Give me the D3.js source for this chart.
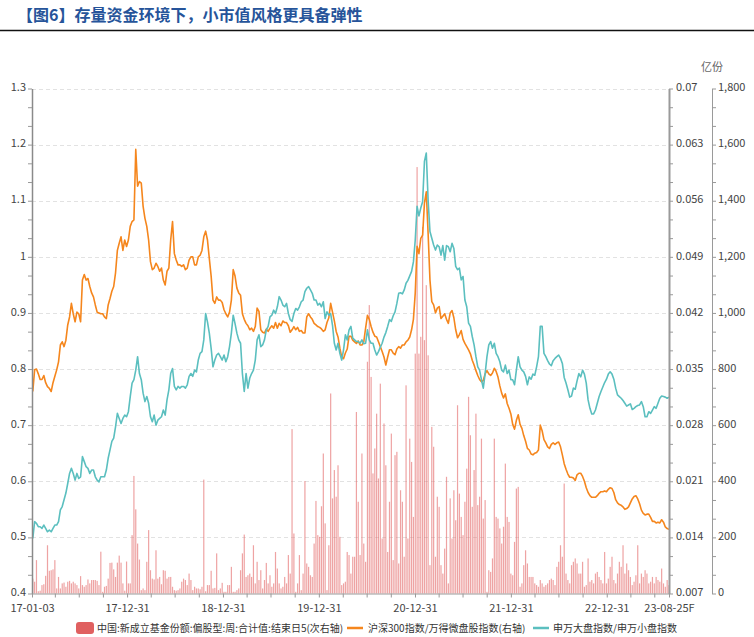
<!DOCTYPE html>
<html><head><meta charset="utf-8">
<script src="https://cdn.jsdelivr.net/npm/d3@7"></script>
<style>
body{margin:0;background:#fff;}
svg{display:block;font-family:"Noto Sans CJK SC","Noto Sans",sans-serif;}
</style></head><body>
<svg id="chart" width="754" height="637"></svg>
<script>
// ---------- texts & categories ----------
const titleText = "【图6】存量资金环境下，小市值风格更具备弹性";
const unitText = "亿份";
const seriesNames = [
  "中国:新成立基金份额:偏股型:周:合计值:结束日5(次右轴)",
  "沪深300指数/万得微盘股指数(右轴)",
  "申万大盘指数/申万小盘指数"
];
const firstWeek = "2017-01-06";           // weekly observations (Fridays)
const axisStart = "2017-01-03", axisEnd = "2023-08-25";
const xLabelDates = ["2017-01-03","2017-12-31","2018-12-31","2019-12-31","2020-12-31","2021-12-31","2022-12-31","2023-08-25"];
const xLabels = ["17-01-03","17-12-31","18-12-31","19-12-31","20-12-31","21-12-31","22-12-31","23-08-25F"];
const leftTicks = [0.4,0.5,0.6,0.7,0.8,0.9,1.0,1.1,1.2,1.3];
const rightTicks = [0.007,0.014,0.021,0.028,0.035,0.042,0.049,0.056,0.063,0.07];
const shareTicks = [0,200,400,600,800,1000,1200,1400,1600,1800];

// ---------- series (weekly) ----------
const fundShares = [
53,42,119,8,10,30,33,63,172,81,
83,86,119,18,59,18,36,39,24,42,
45,36,42,36,30,18,62,30,24,30,
50,36,48,48,48,45,30,149,6,24,
27,53,109,110,86,59,110,135,110,36,
10,114,36,36,208,419,300,178,121,12,
18,12,113,226,83,53,50,154,53,59,
33,83,81,53,59,59,24,12,10,12,
18,42,53,48,30,71,48,
12,24,18,18,15,24,406,8,30,30,
81,18,20,143,12,18,38,6,6,30,
30,95,6,6,12,18,83,143,210,59,
65,71,59,172,36,113,48,83,18,48,
109,36,65,24,36,148,89,36,18,24,
59,36,137,71,586,214,6,36,137,12,
71,401,107,95,65,59,178,330,208,202,
311,499,250,12,172,713,339,440,345,457,
202,30,36,42,
148,137,71,131,131,647,327,137,499,178,
113,826,1028,772,428,517,641,410,748,196,
606,457,148,327,570,119,493,505,107,368,
327,131,742,196,552,469,273,855,1520,855,
915,1307,903,1099,849,101,594,523,131,345,
309,101,71,160,416,36,339,196,368,261,
671,356,273,208,327,445,701,564,309,440,
641,315,345,552,267,333,6,83,77,125,
552,273,267,232,178,238,463,
273,255,71,65,184,374,380,24,36,101,
154,107,59,59,59,36,30,24,48,36,
24,30,36,48,53,48,30,95,113,172,
131,392,71,48,36,101,113,125,107,71,
71,113,24,30,125,42,48,36,71,77,
59,48,36,148,36,53,95,131,48,36,
71,113,95,172,71,107,83,59,30,42,
65,172,36,71,59,83,71,36,42,59,
36,59,48,42,89,36,24,48,30
];

const hs300MicroRatio = [
0.0322,0.0349,0.0350,0.0344,0.0337,0.0337,0.0342,0.0333,0.0328,0.0326,
0.0322,0.0333,0.0341,0.0349,0.0359,0.0380,0.0384,0.0378,0.0386,0.0405,
0.0415,0.0432,0.0419,0.0409,0.0421,0.0419,0.0409,0.0461,0.0468,0.0461,
0.0463,0.0453,0.0445,0.0440,0.0430,0.0421,0.0420,0.0419,0.0419,0.0415,
0.0413,0.0430,0.0438,0.0447,0.0453,0.0470,0.0498,0.0507,0.0515,0.0498,
0.0511,0.0503,0.0511,0.0528,0.0534,0.0536,0.0624,0.0578,0.0584,0.0582,
0.0553,0.0538,0.0528,0.0511,0.0484,0.0474,0.0476,0.0482,0.0478,0.0472,
0.0476,0.0461,0.0455,0.0472,0.0476,0.0511,0.0534,0.0494,0.0486,0.0480,
0.0480,0.0478,0.0480,0.0474,0.0476,0.0486,0.0490,0.0490,0.0480,0.0480,
0.0490,0.0492,0.0498,0.0515,0.0522,0.0511,0.0488,0.0466,0.0436,0.0432,
0.0440,0.0436,0.0436,0.0433,0.0424,0.0419,0.0415,0.0421,0.0436,0.0474,
0.0466,0.0451,0.0445,0.0442,0.0419,0.0412,0.0407,0.0404,0.0399,0.0401,
0.0397,0.0403,0.0426,0.0422,0.0399,0.0396,0.0395,0.0400,0.0397,0.0401,
0.0404,0.0401,0.0408,0.0401,0.0407,0.0404,0.0410,0.0408,0.0408,0.0404,
0.0396,0.0399,0.0403,0.0399,0.0402,0.0397,0.0398,0.0395,0.0395,0.0415,
0.0419,0.0415,0.0412,0.0407,0.0405,0.0403,0.0402,0.0400,0.0397,0.0399,
0.0408,0.0414,0.0432,0.0421,0.0410,0.0397,0.0390,0.0376,0.0365,0.0363,
0.0370,0.0375,0.0391,0.0391,0.0386,0.0384,0.0382,0.0385,0.0380,0.0380,
0.0384,0.0401,0.0417,0.0412,0.0403,0.0396,0.0391,0.0390,0.0384,0.0378,
0.0372,0.0365,0.0355,0.0365,0.0374,0.0374,0.0370,0.0368,0.0375,0.0378,
0.0376,0.0380,0.0380,0.0384,0.0386,0.0390,0.0399,0.0412,0.0445,0.0503,
0.0494,0.0513,0.0517,0.0557,0.0571,0.0519,0.0461,0.0434,0.0430,0.0420,
0.0426,0.0428,0.0413,0.0416,0.0419,0.0412,0.0407,0.0420,0.0423,0.0414,
0.0399,0.0389,0.0393,0.0398,0.0387,0.0382,0.0378,0.0374,0.0369,0.0361,
0.0355,0.0348,0.0342,0.0337,0.0334,0.0336,0.0344,0.0348,0.0344,0.0342,
0.0345,0.0351,0.0347,0.0340,0.0329,0.0320,0.0314,0.0319,0.0307,0.0301,
0.0294,0.0281,0.0275,0.0286,0.0293,0.0281,0.0276,0.0267,0.0260,0.0251,
0.0249,0.0244,0.0243,0.0245,0.0246,0.0249,0.0280,0.0273,0.0262,0.0258,
0.0253,0.0251,0.0256,0.0258,0.0256,0.0258,0.0259,0.0253,0.0243,0.0232,
0.0225,0.0219,0.0215,0.0215,0.0214,0.0211,0.0218,0.0220,0.0220,0.0216,
0.0210,0.0202,0.0196,0.0192,0.0190,0.0190,0.0190,0.0192,0.0195,0.0197,
0.0197,0.0198,0.0197,0.0200,0.0202,0.0201,0.0196,0.0187,0.0183,0.0181,
0.0180,0.0178,0.0175,0.0176,0.0178,0.0183,0.0188,0.0191,0.0192,0.0188,
0.0182,0.0174,0.0170,0.0168,0.0169,0.0169,0.0165,0.0160,0.0160,0.0158,
0.0159,0.0158,0.0162,0.0159,0.0153,0.0151,0.0150
];

const bigSmallRatio = [
0.498,0.528,0.525,0.519,0.519,0.516,0.522,0.516,0.510,0.513,
0.510,0.516,0.522,0.522,0.528,0.549,0.555,0.567,0.579,0.596,
0.614,0.623,0.614,0.602,0.614,0.605,0.608,0.644,0.635,0.626,
0.623,0.614,0.620,0.620,0.608,0.602,0.599,0.608,0.608,0.608,
0.620,0.641,0.656,0.671,0.677,0.697,0.721,0.712,0.703,0.712,
0.718,0.715,0.724,0.751,0.775,0.781,0.798,0.822,0.792,0.781,
0.757,0.742,0.751,0.739,0.715,0.706,0.718,0.700,0.709,0.712,
0.715,0.727,0.718,0.745,0.763,0.792,0.801,0.769,0.763,0.769,
0.766,0.769,0.769,0.766,0.772,0.787,0.792,
0.787,0.798,0.795,0.816,0.828,0.831,0.852,0.899,0.884,0.864,
0.837,0.804,0.816,0.825,0.828,0.822,0.816,0.825,0.813,0.822,
0.840,0.864,0.896,0.881,0.864,0.852,0.846,0.792,0.760,0.792,
0.766,0.784,0.792,0.798,0.816,0.852,0.861,0.840,0.843,0.852,
0.870,0.876,0.893,0.896,0.905,0.899,0.911,0.929,0.923,0.914,
0.911,0.917,0.899,0.888,0.885,0.899,0.908,0.905,0.911,0.920,
0.923,0.938,0.944,0.947,0.941,0.935,0.923,0.923,0.914,0.917,
0.911,0.920,0.890,0.902,0.896,0.899,0.878,0.846,0.834,0.846,
0.828,0.816,0.834,0.861,0.852,
0.870,0.876,0.855,0.852,0.849,0.849,0.846,0.852,0.845,0.846,
0.870,0.852,0.846,0.846,0.834,0.825,0.831,0.839,0.846,0.857,
0.865,0.876,0.888,0.885,0.895,0.902,0.917,0.935,0.936,0.934,
0.941,0.953,0.958,0.966,0.974,0.991,1.030,1.090,1.073,1.087,
1.098,1.170,1.185,1.101,1.045,1.033,1.021,1.012,1.021,1.018,
1.003,1.020,0.994,1.020,1.018,1.009,1.024,1.015,0.983,0.977,
0.980,0.959,0.965,0.923,0.911,0.882,0.876,0.858,0.843,0.822,
0.804,0.798,0.781,0.766,0.792,0.822,0.843,0.849,0.837,0.846,
0.828,0.822,0.813,0.798,0.795,0.807,
0.792,0.798,0.781,0.781,0.772,0.798,0.822,0.804,0.798,0.795,
0.787,0.772,0.786,0.782,0.791,0.789,0.804,0.822,0.876,0.876,
0.828,0.822,0.815,0.809,0.806,0.815,0.819,0.822,0.825,0.819,
0.810,0.785,0.775,0.763,0.750,0.752,0.766,0.764,0.779,0.792,
0.786,0.798,0.791,0.775,0.745,0.730,0.720,0.720,0.727,0.739,
0.751,0.760,0.768,0.776,0.782,0.791,0.795,0.791,0.782,0.766,
0.754,0.751,0.748,0.744,0.739,0.734,0.736,0.738,0.728,0.730,
0.733,0.735,0.736,0.742,0.733,0.715,0.715,0.724,0.721,0.727,
0.733,0.730,0.739,0.748,0.752,0.751,0.750,0.748,0.750
];

// ---------- drawing ----------
const colors = {bar:"#e36a6a", orange:"#f5861d", teal:"#5bbfbf", title:"#26549a"};
const parse = d3.utcParse("%Y-%m-%d");
const weeks = fundShares.map((_, i) => d3.utcDay.offset(parse(firstWeek), 7 * i));

const L = 32, R = 669, T = 88.5, B = 593.5;
const x = d3.scaleUtc().domain([parse(axisStart), parse(axisEnd)]).range([L, R]);
const yL = d3.scaleLinear().domain([0.4, 1.3]).range([B, T]);
const yR = d3.scaleLinear().domain([0.007, 0.07]).range([B, T]);
const yS = d3.scaleLinear().domain([0, 1800]).range([B, T]);

const svg = d3.select("#chart");

// title + rule
svg.append("text").attr("x", 17).attr("y", 21)
  .attr("font-size", 16).attr("font-weight", "bold").attr("fill", colors.title)
  .text(titleText);
svg.append("line").attr("x1", 0).attr("x2", 754).attr("y1", 30.5).attr("y2", 30.5)
  .attr("stroke", "#111").attr("stroke-width", 1.5);

// gridlines
svg.append("g").selectAll("line").data(leftTicks.filter(t => t > 0.4)).join("line")
  .attr("x1", L).attr("x2", R).attr("y1", d => Math.round(yL(d)) + 0.5).attr("y2", d => Math.round(yL(d)) + 0.5)
  .attr("stroke", "#e2e2e2").attr("stroke-dasharray", "4,3");

// bars
svg.append("g").selectAll("rect").data(fundShares).join("rect")
  .attr("x", (d, i) => x(weeks[i]) - 0.6).attr("width", 1.2)
  .attr("y", d => yS(d)).attr("height", d => yS(0) - yS(d))
  .attr("fill", colors.bar).attr("fill-opacity", 0.62);

// lines
const lineOf = (vals, ys) => d3.line().x((d, i) => x(weeks[i])).y(d => ys(d))(vals);
svg.append("path").attr("d", lineOf(hs300MicroRatio, yR))
  .attr("fill", "none").attr("stroke", colors.orange).attr("stroke-width", 1.6).attr("stroke-linejoin", "round");
svg.append("path").attr("d", lineOf(bigSmallRatio, yL))
  .attr("fill", "none").attr("stroke", colors.teal).attr("stroke-width", 1.6).attr("stroke-linejoin", "round");

// minor tick helper
function thirds(ticks) {
  const out = [];
  for (let k = 0; k < ticks.length - 1; k++) {
    const a = ticks[k], b = ticks[k + 1];
    out.push(a + (b - a) / 3, a + 2 * (b - a) / 3);
  }
  return out;
}
function styleAxis(g, domainColor, domainWidth) {
  g.select(".domain").attr("stroke", domainColor).attr("stroke-width", domainWidth);
  g.selectAll(".tick line").attr("stroke", "#999");
  g.selectAll(".tick text").attr("fill", "#444").attr("font-size", 11)
    .attr("font-family", '"Noto Sans CJK SC","Noto Sans",sans-serif');
}

// left axis
const gl = svg.append("g").attr("transform", `translate(${L},0)`)
  .call(d3.axisLeft(yL).tickValues(leftTicks).tickFormat(d => String(+d.toFixed(1)))
    .tickSize(4).tickSizeOuter(0).tickPadding(2));
styleAxis(gl, "#8a8a8a", 1.5);
gl.selectAll(".tick text").attr("dy", "0.2em");
svg.append("g").attr("transform", `translate(${L},0)`)
  .call(d3.axisLeft(yL).tickValues(thirds(leftTicks)).tickFormat("").tickSize(4).tickSizeOuter(0))
  .call(g => { g.select(".domain").remove(); g.selectAll("line").attr("stroke", "#999"); });

// right axis (ratio)
const gr = svg.append("g").attr("transform", `translate(${R},0)`)
  .call(d3.axisRight(yR).tickValues(rightTicks).tickFormat(d => String(+d.toFixed(3)))
    .tickSize(4).tickSizeOuter(0).tickPadding(3));
styleAxis(gr, "#9a9a9a", 2);
gr.selectAll(".tick text").attr("dy", "0.2em");
svg.append("g").attr("transform", `translate(${R},0)`)
  .call(d3.axisRight(yR).tickValues(thirds(rightTicks)).tickFormat("").tickSize(4).tickSizeOuter(0))
  .call(g => { g.select(".domain").remove(); g.selectAll("line").attr("stroke", "#999"); });

// secondary right axis (fund shares)
const AX2 = 712;
const gs = svg.append("g").attr("transform", `translate(${AX2},0)`)
  .call(d3.axisRight(yS).tickValues(shareTicks).tickFormat(d3.format(","))
    .tickSize(4).tickSizeOuter(0).tickPadding(2));
styleAxis(gs, "#9a9a9a", 1);
gs.selectAll(".tick text").attr("dy", "0.2em");
svg.append("g").attr("transform", `translate(${AX2},0)`)
  .call(d3.axisRight(yS).tickValues(thirds(shareTicks)).tickFormat("").tickSize(4).tickSizeOuter(0))
  .call(g => { g.select(".domain").remove(); g.selectAll("line").attr("stroke", "#999"); });
svg.append("text").attr("x", AX2).attr("y", 71).attr("text-anchor", "middle")
  .attr("font-size", 11).attr("fill", "#666").text(unitText);

// x axis
const qEnds = [];
for (let yr = 2017; yr <= 2023; yr++) for (const m of [3, 6, 9, 12]) {
  const d = new Date(Date.UTC(yr, m, 0));
  if (d > x.domain()[0] && d < x.domain()[1]) qEnds.push(d);
}
const labelDates = xLabelDates.map(parse);
const xTicks = [x.domain()[0], ...qEnds, x.domain()[1]];
const gx = svg.append("g").attr("transform", `translate(0,${B})`)
  .call(d3.axisBottom(x).tickValues(xTicks).tickSize(4).tickSizeOuter(0).tickPadding(7)
    .tickFormat(d => {
      const k = labelDates.findIndex(ld => +ld === +d);
      return k >= 0 ? xLabels[k] : "";
    }));
styleAxis(gx, "#9a9a9a", 1);

// legend
const lgY = 628;
const lg = svg.append("g").attr("font-size", 10).attr("fill", "#333");
lg.append("rect").attr("x", 76).attr("y", lgY - 6).attr("width", 18).attr("height", 12).attr("rx", 3)
  .attr("fill", "#e06060");
lg.append("text").attr("x", 97).attr("y", lgY + 3.5).text(seriesNames[0]);
lg.append("line").attr("x1", 347).attr("x2", 363).attr("y1", lgY).attr("y2", lgY)
  .attr("stroke", colors.orange).attr("stroke-width", 2.5);
lg.append("text").attr("x", 368).attr("y", lgY + 3.5).text(seriesNames[1]);
lg.append("line").attr("x1", 533).attr("x2", 549).attr("y1", lgY).attr("y2", lgY)
  .attr("stroke", colors.teal).attr("stroke-width", 2.5);
lg.append("text").attr("x", 553).attr("y", lgY + 3.5).text(seriesNames[2]);
</script>
</body></html>
